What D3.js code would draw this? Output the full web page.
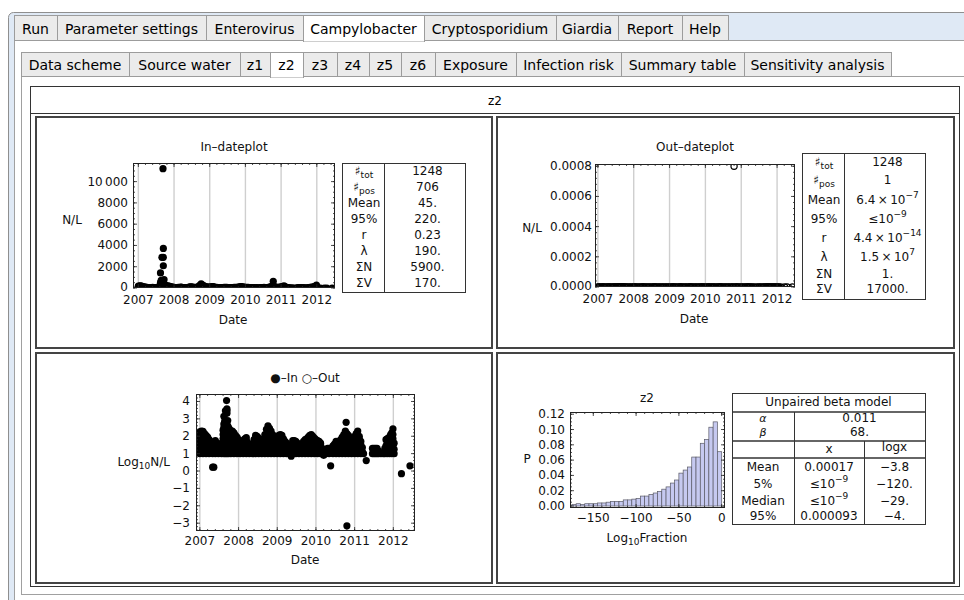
<!DOCTYPE html>
<html><head><meta charset="utf-8">
<script src="https://cdn.jsdelivr.net/npm/d3@7"></script>
<style>
body{margin:0;background:#fff;}
svg{display:block;font-family:"DejaVu Sans",Verdana,sans-serif;}
</style>
</head><body>
<svg id="c" width="964" height="600"></svg>
<script>
// ---------------- DATA ----------------
const mainTabs = ["Run","Parameter settings","Enterovirus","Campylobacter","Cryptosporidium","Giardia","Report","Help"];
const subTabs = ["Data scheme","Source water","z1","z2","z3","z4","z5","z6","Exposure","Infection risk","Summary table","Sensitivity analysis"];
const yearTicks = [2007,2008,2009,2010,2011,2012];
const inTicksY = [0,2000,4000,6000,8000,10000];
const inTickLabelsY = ["0","2000","4000","6000","8000","10\u2009000"];
const outTicksY = [0,0.0002,0.0004,0.0006,0.0008];
const outTickLabelsY = ["0.0000","0.0002","0.0004","0.0006","0.0008"];
const logTicksY = [-3,-2,-1,0,1,2,3,4];
const logTickLabelsY = ["\u22123","\u22122","\u22121","0","1","2","3","4"];
const histTicksX = [-150,-100,-50,0];
const histTickLabelsX = ["\u2212150","\u2212100","\u221250","0"];
const histTicksY = [0,0.02,0.04,0.06,0.08,0.10,0.12];
const histTickLabelsY = ["0.00","0.02","0.04","0.06","0.08","0.10","0.12"];

// sampling dates (decimal year) with the log10 N/L of the positive samples taken on them
const inRows2007 = [
[2007.00,1.00,1.25,1.50,1.75,2.00,2.25],[2007.04,1.10,1.35,1.60,1.85,2.10,2.30],[2007.08,1.00,1.25,1.50,1.75,2.00,2.28],
[2007.12,1.10,1.35,1.60,1.85,2.15],[2007.16,1.00,1.25,1.50,1.75,2.05],[2007.20,1.10,1.35,1.60,1.95],
[2007.24,1.00,1.25,1.50,1.80],[2007.28,1.10,1.35,1.62],[2007.33,0.22,1.00,1.25,1.50],[2007.36,0.22,1.10,1.40,1.68],
[2007.40,1.00,1.25,1.50,1.75],[2007.44,1.10,1.35,1.60],[2007.48,1.00,1.25,1.58],[2007.52,1.10,1.35],
[2007.56,1.00,1.25,1.45],[2007.60,1.10,1.35,1.60,1.85,2.10,2.35],[2007.62,1.00,1.25,1.50,1.75,2.00,2.25,2.50,2.70,3.15],
[2007.64,1.10,1.40,1.70,2.00,2.30,2.60,2.85],[2007.66,1.00,1.30,1.60,1.90,2.20,2.50,2.78,3.46],
[2007.68,1.10,1.40,1.70,2.00,2.30,2.65],[2007.69,4.05],[2007.70,1.00,1.30,1.60,1.90,2.20,2.50,3.32,3.46,3.57],
[2007.72,1.10,1.40,1.70,2.00,2.30,2.60,2.90],[2007.74,1.00,1.30,1.60,1.90,2.20,2.50],
[2007.77,1.10,1.35,1.60,1.85,2.10,2.40],[2007.80,1.00,1.25,1.50,1.75,2.00,2.25],[2007.84,1.10,1.35,1.60,1.85,2.10,2.30],
[2007.88,1.00,1.25,1.50,1.75,2.00,2.20],[2007.92,1.10,1.35,1.60,1.85,2.05],[2007.96,1.00,1.25,1.50,1.75,1.95]
];
const inRows2008 = [
[2008.00,1.10,1.35,1.60,1.80],[2008.04,1.00,1.25,1.55],[2008.08,1.10,1.35,1.62],[2008.12,1.00,1.25,1.50,1.75],
[2008.16,1.10,1.35,1.60,1.85],[2008.20,1.00,1.25,1.50,1.75,1.92],[2008.24,1.10,1.35,1.62],[2008.28,1.00,1.25,1.50],
[2008.32,1.10,1.35,1.45],[2008.36,1.00,1.25,1.50],[2008.40,1.10,1.35,1.60,1.80],[2008.44,1.00,1.25,1.50,1.75,2.05],
[2008.48,1.10,1.35,1.60,1.85,2.00],[2008.52,1.00,1.25,1.50,1.75,1.90],[2008.56,1.10,1.35,1.60,1.80],
[2008.60,1.00,1.25,1.50,1.75],[2008.64,1.10,1.35,1.60,1.85],[2008.68,1.00,1.25,1.50,1.75,2.10],
[2008.72,1.10,1.35,1.60,1.85,2.10,2.40],[2008.76,1.00,1.25,1.50,1.75,2.00,2.25,2.60],[2008.80,1.10,1.35,1.60,1.85,2.10,2.45],
[2008.84,1.00,1.25,1.50,1.75,2.00,2.30],[2008.88,1.10,1.35,1.60,1.85,2.10],[2008.92,1.00,1.25,1.50,1.75,2.00],
[2008.96,1.10,1.35,1.60,1.90]
];
const inRows2009 = [
[2009.00,1.00,1.25,1.50,1.75,1.95],[2009.04,1.10,1.35,1.60,1.85,2.05],[2009.08,1.00,1.25,1.50,1.75,2.00,2.10],
[2009.12,1.10,1.35,1.60,1.85,2.05],[2009.16,1.00,1.25,1.50,1.85],[2009.20,1.10,1.35,1.70],[2009.24,1.00,1.25,1.60],
[2009.28,1.10,1.35,1.50],[2009.32,1.00,1.25,1.45],[2009.36,0.85,1.10,1.35],[2009.40,1.00,1.25,1.50,1.75],
[2009.44,1.10,1.35,1.60,1.75],[2009.48,1.00,1.25,1.50,1.70],[2009.52,1.10,1.35,1.60],[2009.56,1.00,1.25,1.50],
[2009.60,1.10,1.35,1.45],[2009.64,1.00,1.25,1.55],[2009.68,1.10,1.35,1.60,1.70],[2009.72,1.00,1.25,1.50,1.80],
[2009.76,1.10,1.35,1.60,1.85],[2009.80,1.00,1.25,1.50,1.75,1.95],[2009.84,1.10,1.35,1.60,1.85,2.05],
[2009.88,1.00,1.25,1.50,1.75,2.00,2.10],[2009.92,1.10,1.35,1.60,1.85,2.00],[2009.96,1.00,1.25,1.50,1.75,1.90]
];
const inRows2010 = [
[2010.00,1.10,1.35,1.60,1.80],[2010.04,1.00,1.25,1.50,1.75],[2010.08,1.10,1.35,1.60,1.70],[2010.12,1.00,1.25,1.50,1.60],
[2010.16,1.10,1.30],[2010.20,0.90,1.00],[2010.26,1.00,1.20],[2010.30,1.10,1.30],[2010.34,1.00,1.30],[2010.38,0.30],
[2010.44,1.00,1.25,1.45],[2010.48,1.10,1.35,1.55],[2010.52,1.00,1.25,1.50,1.70],[2010.56,1.10,1.35,1.60,1.65],
[2010.60,1.00,1.25,1.50,1.60],[2010.64,1.10,1.35,1.60,1.80],[2010.68,1.00,1.25,1.50,1.75,1.95],
[2010.72,1.10,1.35,1.60,1.85,2.10],[2010.76,1.00,1.25,1.50,1.75,2.00,2.30],[2010.78,2.80],
[2010.80,1.10,1.35,1.60,1.85,2.15,-3.15],[2010.84,1.00,1.25,1.50,1.75,2.05],[2010.88,1.10,1.35,1.60,1.85],
[2010.92,1.00,1.25,1.50,1.80],[2010.96,1.10,1.35,1.60,1.90]
];
const inRows2011 = [
[2011.00,1.00,1.25,1.50,1.75,2.00],[2011.04,1.10,1.35,1.60,1.85,2.15],[2011.08,1.00,1.25,1.50,1.75,2.00,2.30],
[2011.12,1.10,1.35,1.60,1.85,2.00],[2011.16,1.00,1.25,1.50,1.70],[2011.20,1.10,1.35],[2011.23,1.00],[2011.30,0.60],
[2011.46,1.00,1.30],[2011.50,1.00,1.30],[2011.54,1.00,1.30],[2011.58,1.00,1.30],[2011.62,1.00,1.15],[2011.68,1.00],
[2011.74,1.00],[2011.78,1.00,1.30],[2011.81,1.10,1.45,1.80],[2011.84,1.00,1.25,1.50,1.85],[2011.87,1.10,1.35,1.60,1.90],
[2011.90,1.00,1.25,1.50,1.75,1.95],[2011.93,1.10,1.35,1.60,1.85,2.10],[2011.96,1.00,1.25,1.50,1.75,2.00,2.20],
[2011.99,1.10,1.35,1.60,1.85,2.10,2.42],[2012.02,1.00,1.25,1.60],[2012.21,-0.15],[2012.43,0.30]
];
// sampling dates with zero count
const zeroDates = [2007.02,2007.14,2007.30,2007.46,2007.54,2007.58,2008.02,2008.26,2008.58,2009.10,2009.30,2009.58,
 2009.90,2010.10,2010.22,2010.40,2010.42,2010.86,2011.18,2011.26,2011.34,2011.40,2011.66,2011.71,2011.76,2012.05,2012.10,2012.28];
// the single positive outgoing sample
const outPositive = [[2010.80,0.0008]];

const histBins = [-175,-170,-165,-160,-155,-150,-145,-140,-135,-130,-125,-120,-115,-110,-105,-100,-95,-90,
 -85,-80,-75,-70,-65,-60,-55,-50,-45,-40,-35,-30,-25,-20,-15,-10,-5];
const histBinWidth = 5;
const histP = [0.002,0.003,0.002,0.003,0.003,0.003,0.004,0.004,0.005,0.006,0.006,0.006,0.008,0.008,0.009,0.010,
 0.013,0.013,0.015,0.017,0.019,0.022,0.025,0.030,0.034,0.043,0.047,0.051,0.064,0.064,0.082,0.087,0.103,0.110,0.071];

const statLabels = [["\u266F","tot"],["\u266F","pos"],["Mean"],["95%"],["r"],["\u03BB"],["\u03A3N"],["\u03A3V"]];
const inStats = [["1248"],["706"],["45."],["220."],["0.23"],["190."],["5900."],["170."]];
const outStats = [["1248"],["1"],["6.4\u2009\u00D7\u200910","\u22127"],["\u226410","\u22129"],["4.4\u2009\u00D7\u200910","\u221214"],["1.5\u2009\u00D7\u200910","7"],["1."],["17000."]];
const betaTitle = "Unpaired beta model";
const betaParams = [["\u03B1","0.011"],["\u03B2","68."]];
const betaCols = ["x","logx"];
const betaRowLabels = ["Mean","5%","Median","95%"];
const betaX = [["0.00017"],["\u226410","\u22129"],["\u226410","\u22129"],["0.000093"]];
const betaLogX = ["\u22123.8","\u2212120.","\u221229.","\u22124."];

// ---------------- DRAW ----------------
const svg = d3.select("#c");
const FONT = 12;
const inRows = [].concat(inRows2007,inRows2008,inRows2009,inRows2010,inRows2011);
const posSamples = inRows.flatMap(r => r.slice(1).map(v => ({t:r[0], v:v})));

// --- window & tabs ---
svg.append("rect").attr("x",8.5).attr("y",12.5).attr("width",970).attr("height",600).attr("rx",5)
  .attr("fill","#dfe9f5").attr("stroke","#8f8f8f");
svg.append("rect").attr("x",14.5).attr("y",40.5).attr("width",960).attr("height",600)
  .attr("fill","#fff").attr("stroke","#a0a0a0");
const mainEdges = [14,57,206,303,424,556,618,682,728];
const subEdges = [21,129,240,270,303,337,369,401,435,516,621,744,891];
function drawTabs(names, edges, y0, y1, sel){
  const g = svg.append("g");
  names.forEach((n,i)=>{
    const x0 = edges[i], x1 = edges[i+1], s = (i===sel);
    g.append("rect").attr("x",x0+0.5).attr("y",y0+0.5).attr("width",x1-x0).attr("height",y1-y0+(s?1:0))
      .attr("fill", s ? "#fff" : "#ebebeb").attr("stroke","#9c9c9c");
    if (s) g.append("line").attr("x1",x0+1).attr("x2",x1).attr("y1",y1+0.5).attr("y2",y1+0.5).attr("stroke","#fff").attr("stroke-width",2);
    g.append("text").attr("x",(x0+x1)/2).attr("y",(y0+y1)/2+1).attr("text-anchor","middle")
      .attr("dominant-baseline","central").attr("font-size",14).attr("fill","#000").text(n);
  });
}
drawTabs(mainTabs, mainEdges, 15, 40, 3);
svg.append("rect").attr("x",21.5).attr("y",76.5).attr("width",950).attr("height",518)
  .attr("fill","#fff").attr("stroke","#a0a0a0");
drawTabs(subTabs, subEdges, 52, 76, 3);

// --- grid box ---
const gb = svg.append("g");
gb.append("rect").attr("x",30.5).attr("y",86.5).attr("width",929).attr("height",500).attr("fill","#fff").attr("stroke","#333");
gb.append("text").attr("x",495).attr("y",101).attr("text-anchor","middle").attr("dominant-baseline","central")
  .attr("font-size",FONT).text("z2");
gb.append("line").attr("x1",30).attr("x2",960).attr("y1",113.5).attr("y2",113.5).attr("stroke","#333");
[[35,116,493,349],[496,116,955,349],[35,352,493,584],[496,352,955,584]].forEach(c=>{
  gb.append("rect").attr("x",c[0]+1).attr("y",c[1]+1).attr("width",c[2]-c[0]-2).attr("height",c[3]-c[1]-2)
    .attr("fill","none").attr("stroke","#444").attr("stroke-width",2);
});

// --- helpers ---
function txt(g,x,y,s,anchor,size){
  return g.append("text").attr("x",x).attr("y",y).attr("text-anchor",anchor||"middle")
    .attr("dominant-baseline","central").attr("font-size",size||FONT).attr("fill","#111").text(s);
}
function rich(g,x,y,parts,anchor,mode){ // parts[0] normal, parts[1] sup/sub
  const t = g.append("text").attr("x",x).attr("y",y).attr("text-anchor",anchor||"middle")
    .attr("dominant-baseline","central").attr("font-size",FONT).attr("fill","#111");
  t.append("tspan").text(parts[0]);
  if (parts.length>1) t.append("tspan").attr("font-size",9).attr("dy", mode==="sub"?4:-5).text(parts[1]);
  if (parts.length>2) t.append("tspan").attr("dy", mode==="sub"?-4:5).text(parts[2]);
  return t;
}
let clipId = 0;
function plotFrame(box, xs, ys, o){
  const [L,T,R,B] = box;
  const g = svg.append("g");
  const id = "clip"+(clipId++);
  g.append("clipPath").attr("id",id).append("rect").attr("x",L).attr("y",T).attr("width",R-L).attr("height",B-T);
  if (o.grid) o.grid.forEach(v=>{
    g.append("line").attr("x1",xs(v)).attr("x2",xs(v)).attr("y1",T).attr("y2",B).attr("stroke","#cfcfcf").attr("stroke-width",1.4);
  });
  const data = g.append("g").attr("clip-path","url(#"+id+")");
  const tk = g.append("g").attr("stroke","#222").attr("stroke-width",0.8);
  o.xMinor.forEach(v=>{const x=xs(v); if(x<L||x>R)return;
    tk.append("line").attr("x1",x).attr("x2",x).attr("y1",B).attr("y2",B-2);
    tk.append("line").attr("x1",x).attr("x2",x).attr("y1",T).attr("y2",T+2);});
  o.xMajor.forEach(v=>{const x=xs(v);
    tk.append("line").attr("x1",x).attr("x2",x).attr("y1",B).attr("y2",B-4);
    tk.append("line").attr("x1",x).attr("x2",x).attr("y1",T).attr("y2",T+4);});
  o.yMinor.forEach(v=>{const y=ys(v); if(y<T||y>B)return;
    tk.append("line").attr("y1",y).attr("y2",y).attr("x1",L).attr("x2",L+2);
    tk.append("line").attr("y1",y).attr("y2",y).attr("x1",R).attr("x2",R-2);});
  o.yMajor.forEach(v=>{const y=ys(v);
    tk.append("line").attr("y1",y).attr("y2",y).attr("x1",L).attr("x2",L+4);
    tk.append("line").attr("y1",y).attr("y2",y).attr("x1",R).attr("x2",R-4);});
  g.append("rect").attr("x",L+0.5).attr("y",T+0.5).attr("width",R-L-1).attr("height",B-T-1)
    .attr("fill","none").attr("stroke","#222").attr("stroke-width",1);
  o.xMajor.forEach((v,i)=>txt(g, xs(v), o.xLabY, o.xLabels[i]));
  o.yMajor.forEach((v,i)=>txt(g, o.yLabX, ys(v)+(o.yLabShift?o.yLabShift(i):0), o.yLabels[i], "end"));
  return {g, data};
}
function statTable(box, div, rowsY, labels, values){
  const [L,T,R,B] = box;
  const g = svg.append("g");
  g.append("rect").attr("x",L+0.5).attr("y",T+0.5).attr("width",R-L).attr("height",B-T).attr("fill","#fff").attr("stroke","#333");
  g.append("line").attr("x1",div+0.5).attr("x2",div+0.5).attr("y1",T).attr("y2",B).attr("stroke","#333");
  labels.forEach((l,i)=>rich(g,(L+div)/2+1,rowsY[i],l,"middle","sub"));
  values.forEach((v,i)=>rich(g,(div+R)/2+3,rowsY[i],v,"middle","sup"));
}
const yearMinor = d3.range(2006.8,2012.61,0.2);

// --- 1. In-dateplot ---
{
  const box=[133,163,335,288];
  const xs=d3.scaleLinear([2006.85,2012.51],[133,335]);
  const ys=d3.scaleLinear([0,11750],[288,163]);
  const p = plotFrame(box,xs,ys,{grid:yearTicks,xMajor:yearTicks,xMinor:yearMinor,xLabels:yearTicks.map(String),xLabY:300,
    yMajor:inTicksY,yMinor:d3.range(0,11751,500),yLabels:inTickLabelsY,yLabX:128,yLabShift:i=>i===0?-1.5:0});
  const pts = zeroDates.map(t=>({t,n:0})).concat(posSamples.map(d=>({t:d.t,n:Math.pow(10,d.v)})));
  p.data.selectAll("circle").data(pts).join("circle").attr("cx",d=>xs(d.t)).attr("cy",d=>ys(d.n)).attr("r",3.6).attr("fill","#000");
  txt(svg,234,147,"In\u2013dateplot");
  txt(svg,72,220,"N/L");
  txt(svg,233,320,"Date");
  statTable([342,163,465,292],384,[171,187,203,219,235,251,267,283],statLabels,inStats);
}
// --- 2. Out-dateplot ---
{
  const box=[595,164,795,287];
  const xs=d3.scaleLinear([2006.92,2012.50],[595,795]);
  const ys=d3.scaleLinear([0,0.000815],[287,164]);
  const p = plotFrame(box,xs,ys,{grid:yearTicks,xMajor:yearTicks,xMinor:yearMinor,xLabels:yearTicks.map(String),xLabY:299,
    yMajor:outTicksY,yMinor:d3.range(0,0.00082,0.00004),yLabels:outTickLabelsY,yLabX:592,yLabShift:i=>i===0?-1.5:0});
  const dates = inRows.map(r=>r[0]).concat(zeroDates).filter(t=>!outPositive.some(q=>q[0]===t));
  const pts = dates.map(t=>({t,n:0})).concat(outPositive.map(q=>({t:q[0],n:q[1]})));
  p.data.selectAll("circle").data(pts).join("circle").attr("cx",d=>xs(d.t)).attr("cy",d=>ys(d.n)).attr("r",3.1)
    .attr("fill","none").attr("stroke","#000").attr("stroke-width",1.2);
  txt(svg,695,147,"Out\u2013dateplot");
  txt(svg,532,228,"N/L");
  txt(svg,694,319,"Date");
  statTable([802,153,925,299],844,[162,180,200,219,238,257,274,289],statLabels,outStats);
}
// --- 3. Log plot ---
{
  const box=[196,394,415,531];
  const xs=d3.scaleLinear([2006.9,2012.56],[196,415]);
  const ys=d3.scaleLinear([-3.45,4.43],[531,394]);
  const p = plotFrame(box,xs,ys,{grid:yearTicks,xMajor:yearTicks,xMinor:yearMinor,xLabels:yearTicks.map(String),xLabY:541,
    yMajor:logTicksY,yMinor:d3.range(-3.4,4.41,0.2),yLabels:logTickLabelsY,yLabX:190});
  p.data.selectAll("circle").data(posSamples).join("circle").attr("cx",d=>xs(d.t)).attr("cy",d=>ys(d.v)).attr("r",3.6).attr("fill","#000");
  txt(svg,305,378,"\u25CF\u2013In \u25CB\u2013Out");
  rich(svg,170,462,["Log","10","N/L"],"end","sub");
  txt(svg,305,560,"Date");
}
// --- 4. Histogram ---
{
  const box=[570,412,725,508];
  const xs=d3.scaleLinear([-177.2,3.86],[570,725]);
  const ys=d3.scaleLinear([-0.0026,0.1229],[508,412]);
  const p = plotFrame(box,xs,ys,{grid:null,xMajor:histTicksX,xMinor:d3.range(-170,1,10),xLabels:histTickLabelsX,xLabY:518,
    yMajor:histTicksY,yMinor:d3.range(0,0.1229,0.005),yLabels:histTickLabelsY,yLabX:565});
  p.data.selectAll("rect").data(histBins).join("rect")
    .attr("x",(b)=>xs(b)).attr("width",b=>xs(b+histBinWidth)-xs(b))
    .attr("y",(b,i)=>ys(histP[i])).attr("height",(b,i)=>ys(0)-ys(histP[i]))
    .attr("fill","#c6c9f0").attr("stroke","#5a5a66").attr("stroke-width",0.7);
  txt(svg,647,398,"z2");
  txt(svg,527,459,"P");
  rich(svg,647,538,["Log","10","Fraction"],"middle","sub");
  // beta table
  const g = svg.append("g");
  const L=732,R=925,T=393,B=524,d1=794,d2=864;
  g.append("rect").attr("x",L+0.5).attr("y",T+0.5).attr("width",R-L).attr("height",B-T).attr("fill","#fff").attr("stroke","#333");
  [412,441,458].forEach(y=>g.append("line").attr("x1",L).attr("x2",R).attr("y1",y).attr("y2",y).attr("stroke","#333").attr("stroke-width",1.6));
  g.append("line").attr("x1",d1+0.5).attr("x2",d1+0.5).attr("y1",412).attr("y2",B).attr("stroke","#333");
  g.append("line").attr("x1",d2+0.5).attr("x2",d2+0.5).attr("y1",441).attr("y2",B).attr("stroke","#333");
  txt(g,(L+R)/2,402,betaTitle);
  betaParams.forEach((r,i)=>{ txt(g,(L+d1)/2,418+i*14,r[0],"middle",11).attr("font-style","italic"); txt(g,(d1+R)/2,418+i*14,r[1]); });
  txt(g,(d1+d2)/2,449,betaCols[0]); txt(g,(d2+R)/2,447,betaCols[1]);
  betaRowLabels.forEach((l,i)=>{ const y=[467,484,501,516][i];
    txt(g,(L+d1)/2,y,l); rich(g,(d1+d2)/2,y,betaX[i],"middle","sup"); txt(g,(d2+R)/2,y,betaLogX[i]); });
}
</script>
</body></html>
